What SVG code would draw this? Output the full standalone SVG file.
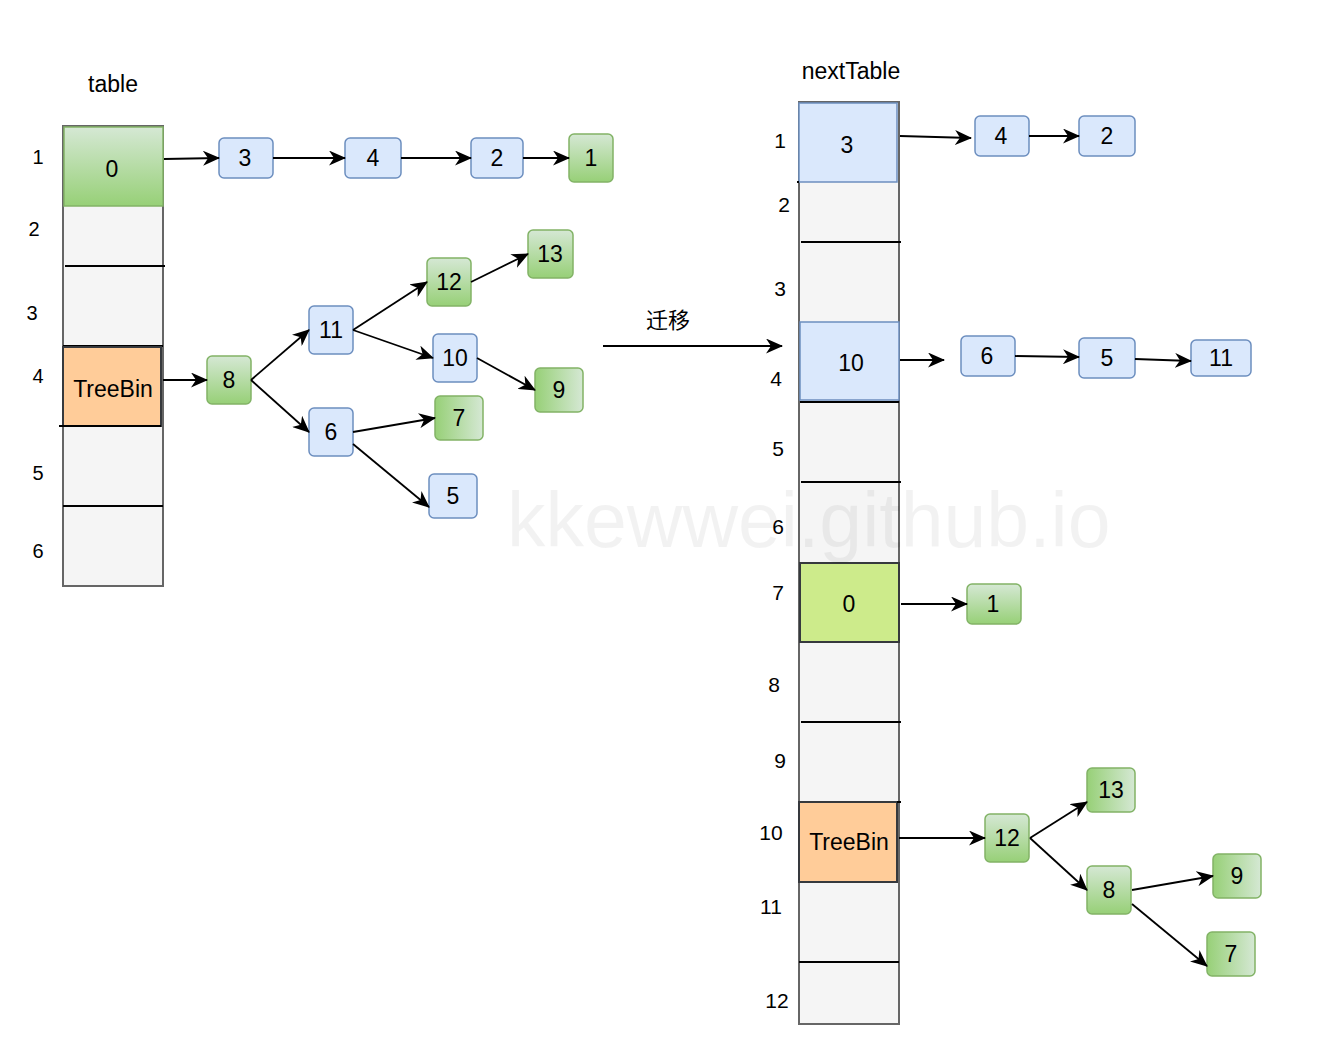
<svg xmlns="http://www.w3.org/2000/svg" width="1326" height="1045" viewBox="0 0 1326 1045">
<defs>
<linearGradient id="gv" x1="0" y1="0" x2="0" y2="1"><stop offset="0" stop-color="#d5e8d4"/><stop offset="1" stop-color="#97d077"/></linearGradient>
<linearGradient id="gh" x1="0" y1="0" x2="1" y2="0"><stop offset="0" stop-color="#97d077"/><stop offset="1" stop-color="#d5e8d4"/></linearGradient>
<marker id="ar" viewBox="0 0 17 15" refX="16" refY="7.5" markerWidth="17" markerHeight="15" markerUnits="userSpaceOnUse" orient="auto"><path d="M0,0 L17,7.5 L0,15 L5,7.5 Z" fill="#000"/></marker>
</defs>
<style>
text{font-family:"Liberation Sans",Arial,sans-serif;fill:#000;}
.t{font-size:23px;text-anchor:middle;}
.lbl{font-size:20px;text-anchor:middle;}
.rl{font-size:21px;text-anchor:middle;}
.ttl{font-size:23px;text-anchor:middle;}
.tbl{fill:#f5f5f5;stroke:#666;stroke-width:2;}
.div{stroke:#000;stroke-width:2;fill:none;}
.blue{fill:#dae8fc;stroke:#6c8ebf;stroke-width:1.5;}
.gv{fill:url(#gv);stroke:#82b366;stroke-width:1.5;}
.gh{fill:url(#gh);stroke:#82b366;stroke-width:1.5;}
.tb{fill:#ffcc99;stroke:#36393d;stroke-width:2;}
.conn line{stroke:#000;stroke-width:1.8;marker-end:url(#ar);}
.wm{font-size:77px;fill:#000;fill-opacity:0.05;}
</style>
<rect width="1326" height="1045" fill="#fff"/>

<g id="left-table">
<text x="113" y="92" class="ttl">table</text>
<rect x="63" y="126" width="100" height="460" class="tbl"/>
<rect x="64" y="127" width="99" height="79" class="gv"/>
<text x="112" y="177" class="t">0</text>
<line x1="65" y1="266" x2="165" y2="266" class="div"/>
<line x1="63" y1="346" x2="163" y2="346" class="div"/>
<rect x="63" y="347" width="98" height="79" class="tb"/>
<text x="113" y="397" class="t">TreeBin</text>
<line x1="59" y1="426" x2="161" y2="426" class="div"/>
<line x1="63" y1="506" x2="163" y2="506" class="div"/>
<text x="38" y="164" class="lbl">1</text>
<text x="34" y="236" class="lbl">2</text>
<text x="32" y="320" class="lbl">3</text>
<text x="38" y="383" class="lbl">4</text>
<text x="38" y="480" class="lbl">5</text>
<text x="38" y="558" class="lbl">6</text>
</g>

<g id="l3"><rect x="219" y="138" width="54" height="40" rx="5" class="blue"/><text x="245" y="166" class="t">3</text></g>
<g id="l4"><rect x="345" y="138" width="56" height="40" rx="5" class="blue"/><text x="373" y="166" class="t">4</text></g>
<g id="l2"><rect x="471" y="138" width="52" height="40" rx="5" class="blue"/><text x="497" y="166" class="t">2</text></g>
<g id="l1"><rect x="569" y="134" width="44" height="48" rx="5" class="gv"/><text x="591" y="166" class="t">1</text></g>
<g id="l8"><rect x="207" y="356" width="44" height="48" rx="5" class="gv"/><text x="229" y="388" class="t">8</text></g>
<g id="l11"><rect x="309" y="306" width="44" height="48" rx="5" class="blue"/><text x="331" y="338" class="t">11</text></g>
<g id="l6"><rect x="309" y="408" width="44" height="48" rx="5" class="blue"/><text x="331" y="440" class="t">6</text></g>
<g id="l12"><rect x="427" y="258" width="44" height="48" rx="5" class="gv"/><text x="449" y="290" class="t">12</text></g>
<g id="l13"><rect x="528" y="230" width="45" height="48" rx="5" class="gv"/><text x="550" y="262" class="t">13</text></g>
<g id="l10"><rect x="433" y="334" width="44" height="48" rx="5" class="blue"/><text x="455" y="366" class="t">10</text></g>
<g id="l9"><rect x="535" y="368" width="48" height="44" rx="5" class="gh"/><text x="559" y="398" class="t">9</text></g>
<g id="l7"><rect x="435" y="396" width="48" height="44" rx="5" class="gh"/><text x="459" y="426" class="t">7</text></g>
<g id="l5"><rect x="429" y="474" width="48" height="44" rx="5" class="blue"/><text x="453" y="504" class="t">5</text></g>

<g id="migrate-label"><text x="668" y="328" style="font-size:22px;text-anchor:middle;font-family:'Liberation Sans','Noto Sans CJK SC',sans-serif">迁移</text></g>

<g id="right-table">
<text x="851" y="79" class="ttl">nextTable</text>
<rect x="799" y="102" width="100" height="922" class="tbl"/>
<rect x="799" y="103" width="98" height="79" class="blue"/>
<line x1="797" y1="182" x2="799" y2="182" class="div"/>
<text x="847" y="153" class="t">3</text>
<line x1="801" y1="242" x2="901" y2="242" class="div"/>
<rect x="800" y="322" width="99" height="78" class="blue"/>
<text x="851" y="371" class="t">10</text>
<line x1="800" y1="402" x2="899" y2="402" class="div"/>
<line x1="801" y1="482" x2="901" y2="482" class="div"/>
<rect x="800" y="563" width="99" height="79" style="fill:#cdeb8b;stroke:#36393d;stroke-width:2"/>
<text x="849" y="612" class="t">0</text>
<line x1="801" y1="722" x2="901" y2="722" class="div"/>
<rect x="799" y="802" width="98" height="80" class="tb"/>
<line x1="897" y1="802" x2="901" y2="802" class="div"/>
<text x="849" y="850" class="t">TreeBin</text>
<line x1="799" y1="962" x2="899" y2="962" class="div"/>
<text x="780" y="148" class="rl">1</text>
<text x="784" y="212" class="rl">2</text>
<text x="780" y="296" class="rl">3</text>
<text x="776" y="386" class="rl">4</text>
<text x="778" y="456" class="rl">5</text>
<text x="778" y="534" class="rl">6</text>
<text x="778" y="600" class="rl">7</text>
<text x="774" y="692" class="rl">8</text>
<text x="780" y="768" class="rl">9</text>
<text x="771" y="840" class="rl">10</text>
<text x="771" y="914" class="rl">11</text>
<text x="777" y="1008" class="rl">12</text>
</g>

<g id="r4"><rect x="975" y="116" width="54" height="40" rx="5" class="blue"/><text x="1001" y="144" class="t">4</text></g>
<g id="r2"><rect x="1079" y="116" width="56" height="40" rx="5" class="blue"/><text x="1107" y="144" class="t">2</text></g>
<g id="r6"><rect x="961" y="336" width="54" height="40" rx="5" class="blue"/><text x="987" y="364" class="t">6</text></g>
<g id="r5"><rect x="1079" y="338" width="56" height="40" rx="5" class="blue"/><text x="1107" y="366" class="t">5</text></g>
<g id="r11"><rect x="1191" y="340" width="60" height="36" rx="5" class="blue"/><text x="1221" y="366" class="t">11</text></g>
<g id="r1"><rect x="967" y="584" width="54" height="40" rx="5" class="gv"/><text x="993" y="612" class="t">1</text></g>
<g id="r12"><rect x="985" y="814" width="44" height="48" rx="5" class="gv"/><text x="1007" y="846" class="t">12</text></g>
<g id="r13"><rect x="1087" y="768" width="48" height="44" rx="5" class="gh"/><text x="1111" y="798" class="t">13</text></g>
<g id="r8"><rect x="1087" y="866" width="44" height="48" rx="5" class="gv"/><text x="1109" y="898" class="t">8</text></g>
<g id="r9"><rect x="1213" y="854" width="48" height="44" rx="5" class="gh"/><text x="1237" y="884" class="t">9</text></g>
<g id="r7"><rect x="1207" y="932" width="48" height="44" rx="5" class="gh"/><text x="1231" y="962" class="t">7</text></g>

<g id="connectors" class="conn">
<line x1="164" y1="159" x2="219" y2="158"/>
<line x1="273" y1="158" x2="345" y2="158"/>
<line x1="401" y1="158" x2="471" y2="158"/>
<line x1="523" y1="158" x2="569" y2="158"/>
<line x1="163" y1="380" x2="207" y2="380"/>
<line x1="251" y1="380" x2="309" y2="330"/>
<line x1="251" y1="380" x2="309" y2="432"/>
<line x1="353" y1="330" x2="427" y2="282"/>
<line x1="353" y1="330" x2="433" y2="358"/>
<line x1="471" y1="282" x2="528" y2="254"/>
<line x1="477" y1="358" x2="535" y2="390"/>
<line x1="353" y1="432" x2="435" y2="418"/>
<line x1="353" y1="444" x2="429" y2="507"/>
<line x1="603" y1="346" x2="782" y2="346"/>
<line x1="900" y1="136" x2="971" y2="138"/>
<line x1="1029" y1="136" x2="1079" y2="136"/>
<line x1="900" y1="360" x2="944" y2="360"/>
<line x1="1015" y1="356" x2="1079" y2="357"/>
<line x1="1135" y1="359" x2="1191" y2="361"/>
<line x1="901" y1="604" x2="967" y2="604"/>
<line x1="899" y1="838" x2="985" y2="838"/>
<line x1="1030" y1="838" x2="1087" y2="802"/>
<line x1="1030" y1="838" x2="1087" y2="890"/>
<line x1="1132" y1="890" x2="1213" y2="876"/>
<line x1="1132" y1="904" x2="1207" y2="966"/>
</g>

<text x="507" y="547" class="wm">kkewwei.github.io</text>
</svg>
